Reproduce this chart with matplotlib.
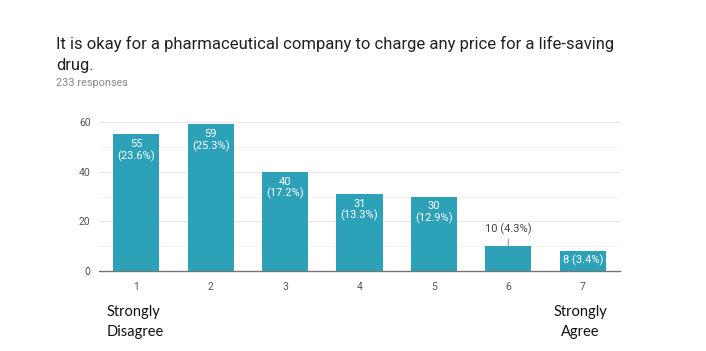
import matplotlib
matplotlib.use("Agg")
import matplotlib.pyplot as plt
from matplotlib.ticker import MultipleLocator

categories = ["1", "2", "3", "4", "5", "6", "7"]
counts = [55, 59, 40, 31, 30, 10, 8]
percents = ["23.6%", "25.3%", "17.2%", "13.3%", "12.9%", "4.3%", "3.4%"]
title = "It is okay for a pharmaceutical company to charge any price for a life-saving\ndrug."
subtitle = "233 responses"

bar_color = "#2ca1b8"

fig = plt.figure(figsize=(7.06, 3.51), dpi=100)
ax = fig.add_axes([99/706, 1-271/351, (620-99)/706, (271-122)/351])

x = list(range(len(categories)))
ax.bar(x, counts, width=0.62, color=bar_color, zorder=3)
ax.set_xlim(-0.5, 6.5)
ax.set_ylim(0, 60)
ax.set_xticks(x)
ax.set_xticklabels(categories)
ax.yaxis.set_major_locator(MultipleLocator(20))
ax.yaxis.set_minor_locator(MultipleLocator(10))
ax.grid(axis="y", which="major", color="#e6e6e6", linewidth=0.8, zorder=0)
ax.grid(axis="y", which="minor", color="#f3f3f3", linewidth=0.8, zorder=0)
for s in ["left", "right", "top"]:
    ax.spines[s].set_visible(False)
ax.spines["bottom"].set_color("#757575")
ax.spines["bottom"].set_linewidth(1.0)
ax.tick_params(axis="both", which="both", length=0, labelsize=7.5, labelcolor="#555555", pad=6)
ax.tick_params(axis="x", pad=8)
for lbl in ax.get_xticklabels() + ax.get_yticklabels():
    lbl.set_family("Roboto")

for xi, c, p in zip(x, counts, percents):
    if c >= 30:
        ax.annotate(f"{c}\n({p})", (xi, c), xytext=(0, -3.5), textcoords="offset points",
                    ha="center", va="top", color="white", fontsize=8,
                    family="Roboto", linespacing=1.1, zorder=4)
    elif c >= 9:
        ax.annotate(f"{c} ({p})", (xi, c), xytext=(0, 8), textcoords="offset points",
                    ha="center", va="bottom", color="#444444", fontsize=8,
                    family="Roboto", zorder=4,
                    arrowprops=dict(arrowstyle="-", color="#999999", lw=0.8,
                                    shrinkA=1, shrinkB=0))
    else:
        ax.annotate(f"{c} ({p})", (xi, c), xytext=(0, -2.5), textcoords="offset points",
                    ha="center", va="top", color="white", fontsize=8,
                    family="Roboto", zorder=4)

fig.text(56/706, 1-36/351, title, ha="left", va="top", fontsize=12, family="Roboto",
         color="#212121", linespacing=1.5)
fig.text(56/706, 1-83/351, subtitle, ha="left", va="center", fontsize=7.8, family="Roboto",
         color="#888888")

fig.text(107/706, 1-322/351, "Strongly\nDisagree", ha="left", va="center", fontsize=10.5,
         family="Lato", color="#111111", linespacing=1.55)
fig.text(580/706, 1-322/351, "Strongly\nAgree", ha="center", va="center", fontsize=10.5,
         family="Lato", color="#111111", linespacing=1.55)

fig.savefig("out.png", dpi=100)
